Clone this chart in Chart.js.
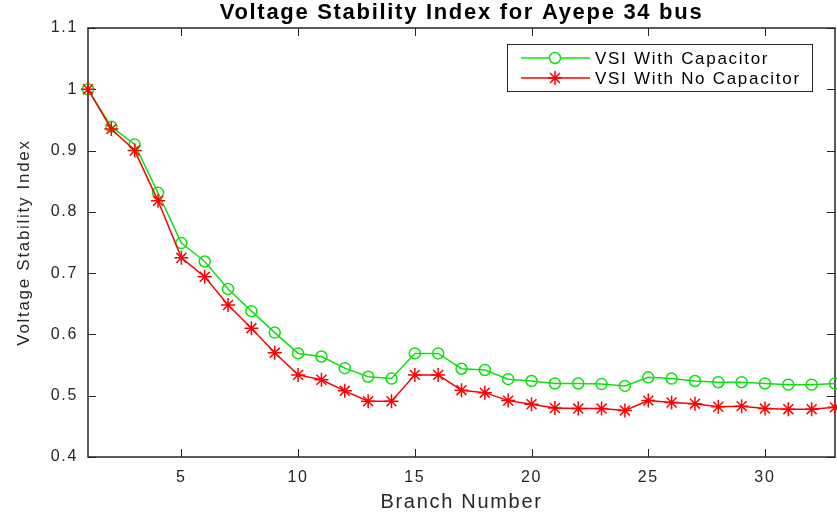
<!DOCTYPE html>
<html>
<head>
<meta charset="utf-8">
<title>Voltage Stability Index</title>
<script src="https://cdn.jsdelivr.net/npm/chart.js@4/dist/chart.umd.min.js"></script>
<style>
  body { margin: 0; background: #fff; }
  canvas { display: block; }
</style>
</head>
<body>
<canvas id="vsiChart" width="837" height="512"></canvas>
<script>
const branches = [1, 2, 3, 4, 5, 6, 7, 8, 9, 10, 11, 12, 13, 14, 15, 16, 17,
                  18, 19, 20, 21, 22, 23, 24, 25, 26, 27, 28, 29, 30, 31, 32, 33];
const vsiWithCap = [1.000, 0.939, 0.910, 0.831, 0.749, 0.719, 0.674, 0.638, 0.603, 0.569, 0.564,
                    0.545, 0.531, 0.528, 0.569, 0.569, 0.544, 0.542, 0.527, 0.524, 0.520, 0.520,
                    0.519, 0.516, 0.530, 0.528, 0.524, 0.522, 0.522, 0.520, 0.518, 0.518, 0.520];
const vsiNoCap = [1.000, 0.935, 0.900, 0.818, 0.725, 0.694, 0.648, 0.610, 0.570, 0.534, 0.526,
                  0.508, 0.491, 0.491, 0.534, 0.534, 0.509, 0.505, 0.492, 0.486, 0.480, 0.479,
                  0.479, 0.476, 0.492, 0.489, 0.487, 0.482, 0.483, 0.479, 0.478, 0.478, 0.481];
const xTicks = [5, 10, 15, 20, 25, 30];
const yTicks = [0.4, 0.5, 0.6, 0.7, 0.8, 0.9, 1.0, 1.1];

const axisColor = "#262626";
const font = "'Liberation Sans', Arial, sans-serif";

// the source figure's text is stretched sideways, so space the letters out a bit
const wideText = {
    id: "wideText",
    beforeDraw(chart) {
        chart.ctx.letterSpacing = "1.7px";
    }
};

// matlab-like box with inward tick marks
const axesBox = {
    id: "axesBox",
    beforeDatasetsDraw(chart) {
        const { ctx, chartArea: a, scales } = chart;
        const len = 8;
        ctx.save();
        ctx.strokeStyle = axisColor;
        ctx.lineWidth = 1;
        ctx.beginPath();
        xTicks.forEach(v => {
            const x = Math.round(scales.x.getPixelForValue(v)) + 0.5;
            ctx.moveTo(x, a.bottom); ctx.lineTo(x, a.bottom - len);
            ctx.moveTo(x, a.top); ctx.lineTo(x, a.top + len);
        });
        yTicks.forEach(v => {
            const y = Math.round(scales.y.getPixelForValue(v)) + 0.5;
            ctx.moveTo(a.left, y); ctx.lineTo(a.left + len, y);
            ctx.moveTo(a.right, y); ctx.lineTo(a.right - len, y);
        });
        ctx.stroke();
        ctx.lineWidth = 1.5;
        ctx.strokeRect(a.left, a.top, a.right - a.left, a.bottom - a.top);
        ctx.restore();
    }
};

// legend box in the upper right of the axes
const boxLegend = {
    id: "boxLegend",
    afterDraw(chart) {
        const { ctx, chartArea: a } = chart;
        const w = 305, h = 47;
        const x0 = a.right - 23 - w, y0 = a.top + 16;
        ctx.save();
        ctx.fillStyle = "#fff";
        ctx.fillRect(x0, y0, w, h);
        ctx.strokeStyle = axisColor;
        ctx.lineWidth = 1;
        ctx.strokeRect(x0 + 0.5, y0 + 0.5, w, h);
        ctx.font = "17px " + font;
        ctx.textBaseline = "middle";
        chart.data.datasets.forEach((ds, i) => {
            const y = y0 + 14 + i * 20;
            ctx.strokeStyle = ds.borderColor;
            ctx.lineWidth = 1.5;
            ctx.beginPath();
            ctx.moveTo(x0 + 14, y);
            ctx.lineTo(x0 + 83, y);
            ctx.stroke();
            Chart.helpers.drawPoint(ctx, {
                pointStyle: ds.pointStyle, radius: ds.pointRadius, borderWidth: 1.5
            }, x0 + 48, y);
            ctx.fillStyle = "#000";
            ctx.fillText(ds.label, x0 + 88, y + 1);
        });
        ctx.restore();
    }
};

new Chart(document.getElementById("vsiChart"), {
    type: "line",
    data: {
        labels: branches,
        datasets: [
            {
                label: "VSI With Capacitor",
                data: branches.map((b, i) => ({ x: b, y: vsiWithCap[i] })),
                borderColor: "#10e010",
                backgroundColor: "transparent",
                pointBackgroundColor: "transparent",
                pointBorderColor: "#10e010",
                pointStyle: "circle",
                pointRadius: 5.5,
                pointBorderWidth: 1.5,
                borderWidth: 1.5,
                order: 2,
                clip: false
            },
            {
                label: "VSI With No Capacitor",
                data: branches.map((b, i) => ({ x: b, y: vsiNoCap[i] })),
                borderColor: "#ff0000",
                backgroundColor: "transparent",
                pointBorderColor: "#ff0000",
                pointStyle: "star",
                pointRadius: 7,
                pointBorderWidth: 1.5,
                borderWidth: 1.5,
                order: 1,
                clip: false
            }
        ]
    },
    options: {
        responsive: false,
        animation: false,
        layout: { autoPadding: false, padding: { left: 0, right: 2, top: 0, bottom: 0 } },
        plugins: {
            legend: { display: false },
            tooltip: { enabled: false },
            title: {
                display: true,
                text: "Voltage Stability Index for Ayepe 34 bus",
                color: "#000",
                fullSize: false,
                font: { family: font, size: 22, weight: "bold" },
                padding: { top: 0, bottom: 1.6 }
            }
        },
        scales: {
            x: {
                type: "linear",
                min: 1,
                max: 33,
                afterBuildTicks: s => { s.ticks = xTicks.map(v => ({ value: v })); },
                afterFit: s => { s.height = 55; },
                grid: { display: false, drawTicks: false },
                border: { display: false },
                ticks: { color: axisColor, font: { family: font, size: 16 }, padding: 11 },
                title: {
                    display: true,
                    text: "Branch Number",
                    color: axisColor,
                    font: { family: font, size: 20 },
                    padding: { top: 0, bottom: -2 }
                }
            },
            y: {
                min: 0.4,
                max: 1.1,
                afterBuildTicks: s => { s.ticks = yTicks.map(v => ({ value: v })); },
                afterFit: s => { s.width = 88; },
                grid: { display: false, drawTicks: false },
                border: { display: false },
                ticks: {
                    color: axisColor,
                    font: { family: font, size: 16 },
                    padding: 10,
                    callback: v => String(Number(v.toFixed(1)))
                },
                title: {
                    display: true,
                    text: "Voltage Stability Index",
                    color: axisColor,
                    font: { family: font, size: 17 },
                    padding: { top: 14, bottom: 0 }
                }
            }
        }
    },
    plugins: [wideText, axesBox, boxLegend]
});
</script>
</body>
</html>
